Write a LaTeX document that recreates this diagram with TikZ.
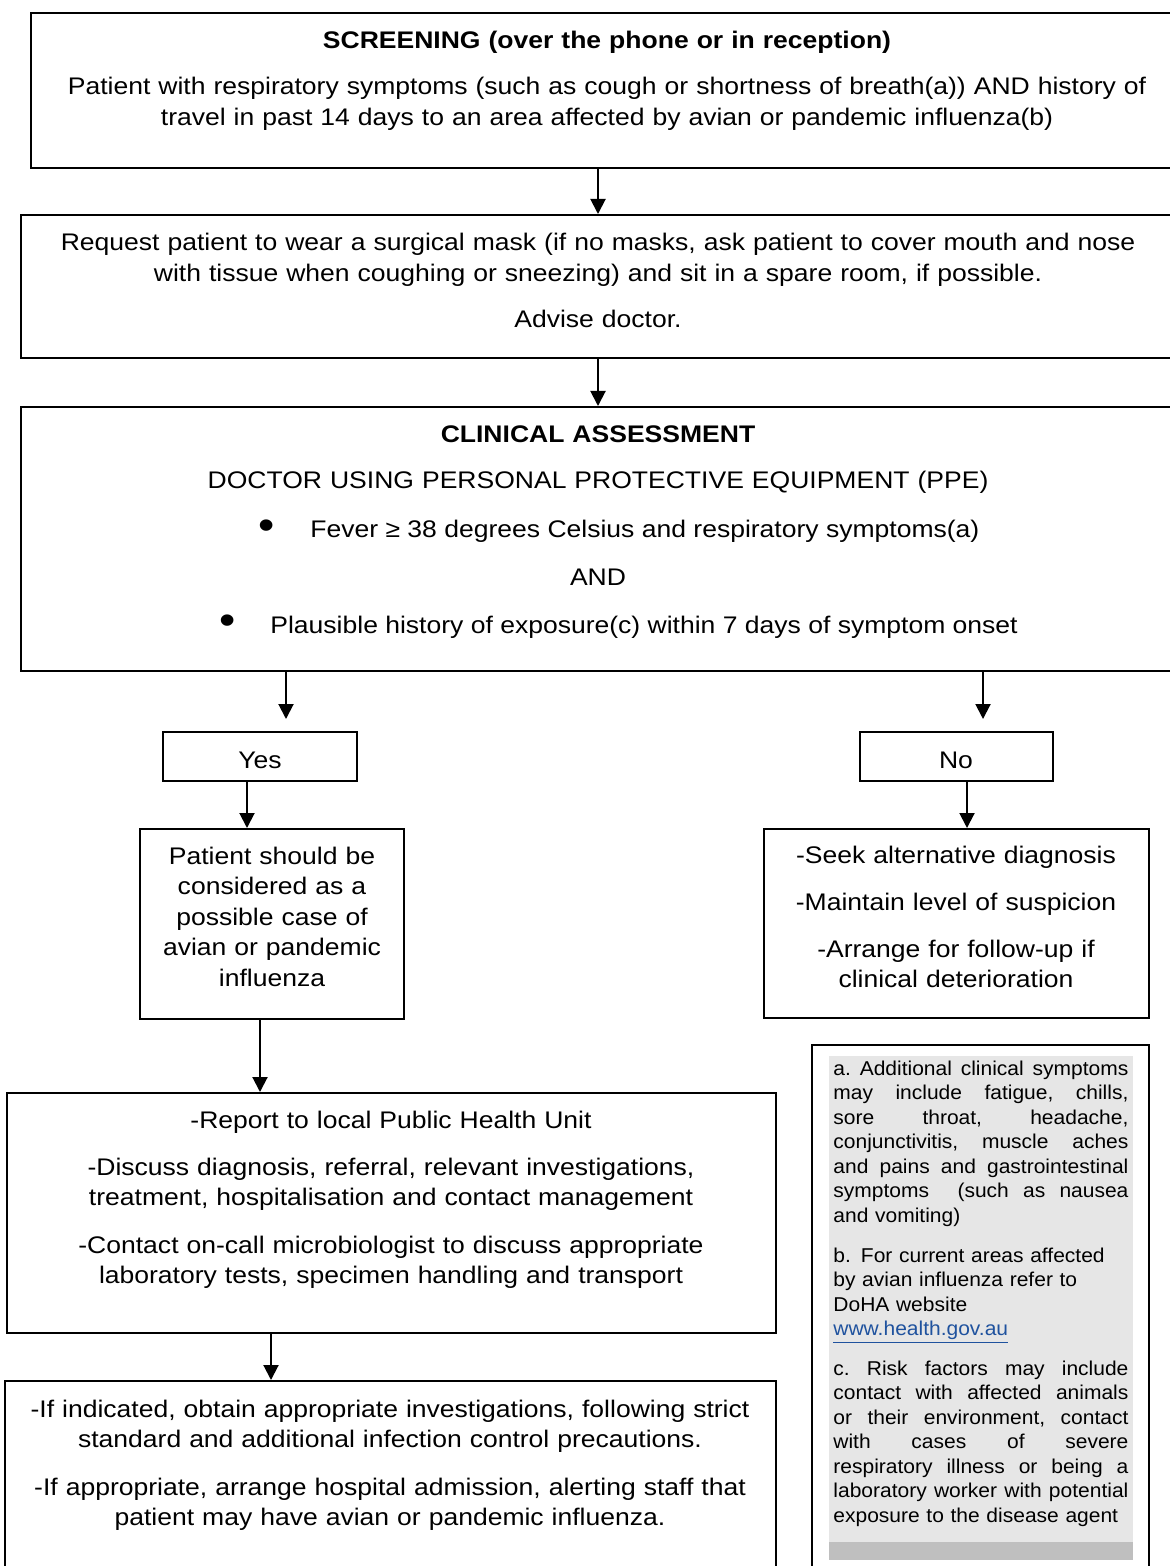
\documentclass[tikz,border=0pt]{standalone}
\usepackage{fontspec}
\setmainfont{Liberation Sans}[FakeStretch=1.105]
\newfontfamily\notefont{Liberation Sans}[FakeStretch=1.05]
\usetikzlibrary{arrows.meta,fit}
\definecolor{notegrey}{RGB}{230,230,230}
\definecolor{notebar}{RGB}{191,191,191}
\definecolor{linkblue}{RGB}{31,82,158}
\newcommand{\jline}[1]{\leavevmode\hbox to 147.5pt{\frenchspacing\spaceskip=0.25em plus 1fil\relax #1}}
\begin{document}
\begin{tikzpicture}[x=0.5pt,y=-0.5pt,
  box/.style={draw, line width=1pt, inner sep=0pt, rectangle},
  arr/.style={line width=1pt, -{Triangle[width=7.5pt,length=7.5pt]}},
  txt/.style={font=\fontsize{12}{15.25}\selectfont, align=center, anchor=base, inner sep=0pt, text width=600pt},
  titletxt/.style={txt, font=\fontsize{12}{15.25}\selectfont\bfseries},
  ltxt/.style={font=\fontsize{12}{15.25}\selectfont, anchor=base west, inner sep=0pt},
  bul/.style={font=\fontsize{21}{21}\selectfont, anchor=center, inner sep=0pt},
  notetxt/.style={font=\notefont\fontsize{10}{12.25}\selectfont, align=left, anchor=base west, inner sep=0pt, text width=147.5pt}
]
\useasboundingbox (0,0) rectangle (1170,1566);
\clip (0,0) rectangle (1170,1566);
\fill[white] (0,0) rectangle (1170,1566);

% boxes
\node[box, fit={(31,13) (1183,168)}] (screen) {};
\node[box, fit={(21,215) (1175,358)}] (mask) {};
\node[box, fit={(21,407) (1175,671)}] (assess) {};
\node[box, fit={(163,732) (357,781)}] (yes) {};
\node[box, fit={(860,732) (1053,781)}] (no) {};
\node[box, fit={(140,829) (404,1019)}] (pat) {};
\node[box, fit={(764,829) (1149,1018)}] (alt) {};
\node[box, fit={(7,1093) (776,1333)}] (rep) {};
\node[box, fit={(5,1381) (776,1620)}] (fin) {};
\node[box, fit={(812,1045) (1149,1620)}] (note) {};
\node[fill=notegrey, inner sep=0pt, fit={(829,1056) (1133,1560)}] (noteBg) {};
\node[fill=notebar, inner sep=0pt, fit={(829,1542) (1133,1560)}] (noteBar) {};

% texts
\node[titletxt] (screenT) at (607,49) {SCREENING (over the phone or in reception)};
\node[txt] (screenP) at (607,95) {Patient with respiratory symptoms (such as cough or shortness of breath(a)) AND history of\\ travel in past 14 days to an area affected by avian or pandemic influenza(b)};

\node[txt] (maskP) at (598,251) {Request patient to wear a surgical mask (if no masks, ask patient to cover mouth and nose\\ with tissue when coughing or sneezing) and sit in a spare room, if possible.};
\node[txt] (maskA) at (598,328) {Advise doctor.};

\node[titletxt] (assessT) at (598,443) {CLINICAL ASSESSMENT};
\node[txt] (assessD) at (598,489) {DOCTOR USING PERSONAL PROTECTIVE EQUIPMENT (PPE)};
\node[bul] (bulA) at (267,530) {\textbullet};
\node[ltxt] (critA) at (310,538) {Fever ≥ 38 degrees Celsius and respiratory symptoms(a)};
\node[txt] (andT) at (598,585) {AND};
\node[bul] (bulB) at (228,625) {\textbullet};
\node[ltxt] (critB) at (270,633) {Plausible history of exposure(c) within 7 days of symptom onset};

\node[txt] (yesT) at (260,768) {Yes};
\node[txt] (noT) at (956,768) {No};

\node[txt] (patT) at (272,864) {Patient should be\\ considered as a\\ possible case of\\ avian or pandemic\\ influenza};

\node[txt] (altA) at (956,863) {-Seek alternative diagnosis};
\node[txt] (altB) at (956,910) {-Maintain level of suspicion};
\node[txt] (altC) at (956,957) {-Arrange for follow-up if\\ clinical deterioration};

\node[txt] (repA) at (391,1128) {-Report to local Public Health Unit};
\node[txt] (repB) at (391,1175) {-Discuss diagnosis, referral, relevant investigations,\\ treatment, hospitalisation and contact management};
\node[txt] (repC) at (391,1253) {-Contact on-call microbiologist to discuss appropriate\\ laboratory tests, specimen handling and transport};

\node[txt] (finA) at (390,1417) {-If indicated, obtain appropriate investigations, following strict\\ standard and additional infection control precautions.};
\node[txt] (finB) at (390,1495) {-If appropriate, arrange hospital admission, alerting staff that\\ patient may have avian or pandemic influenza.};

% footnotes
\node[notetxt] (noteA) at (833,1075) {\jline{a. Additional clinical symptoms}\\
\jline{may include fatigue, chills,}\\
\jline{sore throat, headache,}\\
\jline{conjunctivitis, muscle aches}\\
\jline{and pains and gastrointestinal}\\
\jline{symptoms \ (such as nausea}\\
and vomiting)};
\node[notetxt] (noteB) at (833,1262) {b. For current areas affected\\
by avian influenza refer to\\
DoHA website\\
\textcolor{linkblue}{\underline{www.health.gov.au}}};
\node[notetxt] (noteC) at (833,1375) {\jline{c. Risk factors may include}\\
\jline{contact with affected animals}\\
\jline{or their environment, contact}\\
\jline{with cases of severe}\\
\jline{respiratory illness or being a}\\
\jline{laboratory worker with potential}\\
exposure to the disease agent};

% connectors
\coordinate (yesEnd) at (286,719);
\coordinate (noEnd) at (983,719);
\coordinate (xA) at (247,0);
\coordinate (xB) at (967,0);
\coordinate (xC) at (260,0);
\coordinate (xD) at (271,0);
\draw[arr] (screen.south -| mask.north) -- (mask.north);
\draw[arr] (mask.south) -- (assess.north);
\draw[arr] (assess.south -| yesEnd) -- (yesEnd);
\draw[arr] (assess.south -| noEnd) -- (noEnd);
\draw[arr] (yes.south -| xA) -- (pat.north -| xA);
\draw[arr] (no.south -| xB) -- (alt.north -| xB);
\draw[arr] (pat.south -| xC) -- (rep.north -| xC);
\draw[arr] (rep.south -| xD) -- (fin.north -| xD);
\end{tikzpicture}
\end{document}
